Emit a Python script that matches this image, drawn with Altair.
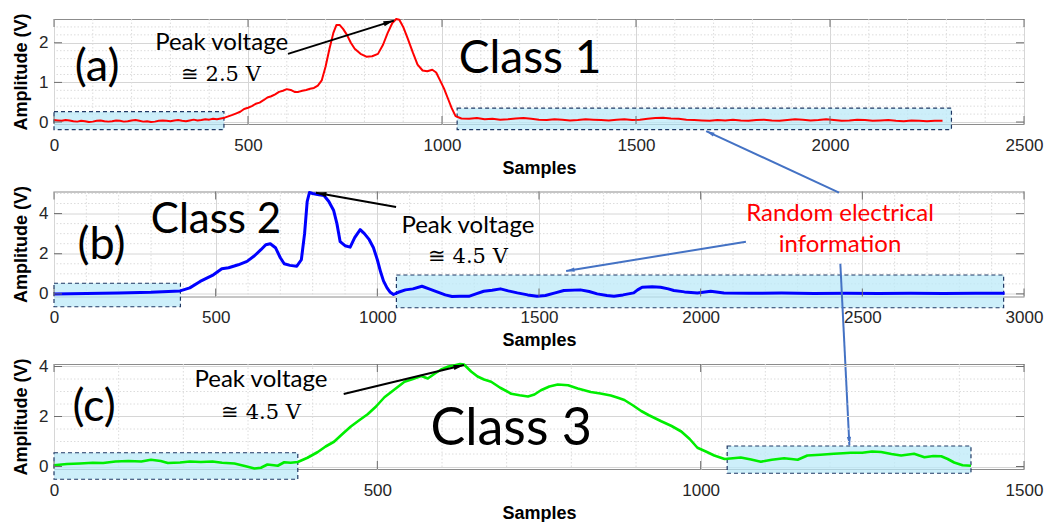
import math
import altair as alt
import pandas as pd

# ---------------- data ----------------
# Panel (a) - Class 1 (red): x sample positions and amplitudes
A_X = ([0, 10, 20, 30, 40, 50, 60, 70, 80, 90, 100, 110, 120, 130, 140, 150, 160, 170, 180, 190, 200, 210, 220,
        230, 240, 250, 260, 270, 280, 290, 300, 310, 320, 330, 340, 350, 360, 370, 380, 390, 400, 410, 420, 430,
        440,
        460, 470, 480, 490, 500, 510, 520, 530, 540, 550, 560, 570, 580, 590, 600, 610, 620, 630, 640, 650, 660,
        670, 680, 690, 700, 710, 720, 728, 736, 745, 755, 765, 775, 790, 805, 820, 835, 848, 860, 872, 882, 890,
        900, 912, 925, 937, 950, 962, 975, 985, 995, 1005, 1015, 1025, 1035]
       + list(range(1050, 2291, 20)))
A_Y = [0.05, 0.04, 0.03, 0.05, 0.04, 0.02, 0.01, 0.03, 0.02, 0.00,
       0.01, 0.03, 0.04, 0.02, 0.01, 0.02, 0.04, 0.03, 0.01, 0.02,
       0.04, 0.05, 0.03, 0.01, 0.02, 0.00, 0.01, 0.03, 0.04, 0.03,
       0.02, 0.04, 0.05, 0.03, 0.02, 0.04, 0.06, 0.04, 0.05, 0.07,
       0.06, 0.08, 0.07, 0.09, 0.11,
       0.18, 0.22, 0.26, 0.33, 0.36, 0.40, 0.46, 0.49, 0.55, 0.62, 0.65, 0.70, 0.76, 0.79, 0.83, 0.81, 0.76,
       0.76, 0.79, 0.81, 0.84, 0.86, 0.92, 1.05, 1.40, 1.85, 2.25, 2.45, 2.45, 2.35, 2.20, 2.00, 1.85, 1.72,
       1.65, 1.66, 1.72, 1.95, 2.25, 2.50, 2.60, 2.58, 2.40, 2.10, 1.75, 1.45, 1.30, 1.28, 1.32, 1.25, 1.05,
       0.85, 0.60, 0.35, 0.15,
       0.09, 0.08, 0.10, 0.07, 0.08, 0.06, 0.07, 0.09, 0.10, 0.08,
       0.06, 0.05, 0.07, 0.06, 0.04, 0.05, 0.07, 0.06, 0.05, 0.04,
       0.06, 0.07, 0.05, 0.06, 0.08, 0.10, 0.11, 0.09, 0.08, 0.06,
       0.05, 0.04, 0.03, 0.05, 0.04, 0.06, 0.04, 0.03, 0.05, 0.06,
       0.04, 0.03, 0.05, 0.07, 0.06, 0.04, 0.05, 0.07, 0.05, 0.03,
       0.04, 0.06, 0.05, 0.03, 0.04, 0.05, 0.03, 0.02, 0.04, 0.03,
       0.02, 0.03, 0.03]

# Panel (b) - Class 2 (blue)
B_X = [0, 100, 200, 300, 390, 420, 452, 493, 519, 540, 570, 597, 620, 640, 655, 669, 685, 700, 712, 730, 751, 765,
       775, 783, 790, 800, 815, 835, 850, 865, 875, 885, 900, 916, 930, 947, 960, 975, 988, 1000, 1010, 1019, 1030,
       1040, 1050, 1065, 1087, 1110, 1138, 1160, 1185, 1210, 1231, 1255, 1283, 1305, 1329, 1355, 1381, 1405, 1433,
       1465, 1494, 1520, 1550, 1577, 1628, 1655, 1680, 1710, 1732, 1760, 1793, 1805, 1819, 1850, 1876, 1900, 1917,
       1950, 1990, 2031, 2072, 2150, 2250, 2350, 2450, 2550, 2650, 2750, 2850, 2940]
B_Y = [0.00, 0.02, 0.04, 0.08, 0.15, 0.30, 0.62, 0.95, 1.25, 1.30, 1.45, 1.62, 1.90, 2.20, 2.45, 2.50, 2.30, 1.80,
       1.50, 1.42, 1.38, 1.70, 3.00, 4.60, 5.05, 5.00, 4.95, 4.90, 4.60, 4.15, 3.50, 2.60, 2.40, 2.33, 2.80, 3.20,
       3.00, 2.70, 2.30, 1.70, 1.10, 0.65, 0.30, 0.08, -0.03, 0.08, 0.20, 0.25, 0.38, 0.25, 0.10, -0.05, -0.13, -0.12,
       -0.12, 0.00, 0.13, 0.18, 0.25, 0.15, 0.05, -0.05, -0.12, -0.08, 0.05, 0.17, 0.20, 0.12, 0.00, -0.08, -0.12,
       -0.05, 0.05, 0.20, 0.33, 0.35, 0.33, 0.25, 0.17, 0.10, 0.05, 0.13, 0.05, 0.03, 0.04, 0.02, 0.03, 0.02, 0.03,
       0.02, 0.03, 0.03]

# Panel (c) - Class 3 (green)
C_X = [0, 20, 40, 60, 76, 95, 115, 135, 150, 165, 176, 195, 210, 227, 245, 260, 279, 295, 310, 320, 330, 340, 346,
       356, 366, 377, 392, 408, 420, 433, 446, 459, 472, 485, 498, 511, 525, 542, 555, 568, 578, 588, 598, 610, 620,
       628, 634, 645, 655, 665, 676, 690, 707, 720, 733, 743, 753, 766, 779, 795, 810, 820, 830, 845, 861, 872, 882,
       895, 908, 920, 939, 955, 970, 983, 995, 1008, 1021, 1037, 1050, 1062, 1078, 1093, 1110, 1129, 1140, 1150,
       1165, 1185, 1206, 1220, 1232, 1250, 1265, 1279, 1295, 1310, 1330, 1346, 1360, 1372, 1382, 1392, 1405, 1418]
C_Y = [0.05, 0.10, 0.12, 0.15, 0.14, 0.20, 0.22, 0.20, 0.27, 0.22, 0.14, 0.16, 0.20, 0.18, 0.20, 0.15, 0.12, 0.02,
       -0.08, -0.05, 0.08, 0.05, 0.03, 0.17, 0.15, 0.18, 0.35, 0.58, 0.80, 0.99, 1.30, 1.60, 1.85, 2.09, 2.40, 2.77,
       3.05, 3.39, 3.50, 3.62, 3.52, 3.70, 3.87, 4.00, 4.05, 4.10, 4.08, 3.80, 3.60, 3.48, 3.39, 3.15, 2.91, 2.85,
       2.80, 2.88, 3.05, 3.20, 3.28, 3.25, 3.12, 3.05, 2.98, 2.92, 2.84, 2.75, 2.66, 2.45, 2.22, 2.05, 1.81, 1.62,
       1.40, 1.10, 0.75, 0.60, 0.44, 0.30, 0.33, 0.36, 0.28, 0.19, 0.27, 0.33, 0.30, 0.27, 0.44, 0.47, 0.51, 0.53,
       0.55, 0.55, 0.60, 0.58, 0.50, 0.44, 0.51, 0.37, 0.42, 0.41, 0.30, 0.16, 0.05, 0.03]

# highlighted (shaded) regions: x0, x1, y0, y1
A_RECTS = [(0, 438, -0.19, 0.26), (1039, 2313, -0.19, 0.35)]
B_RECTS = [(0, 391, -0.64, 0.53), (1059, 2937, -0.69, 0.94)]
C_RECTS = [(0, 377, -0.51, 0.55), (1041, 1418, -0.27, 0.82)]

# annotation texts: text, x, y, style
A_TEXTS = [("(a)", 111, 1.04, "big"), ("Class 1", 1227, 1.23, "cls1"),
           ("Peak voltage", 432, 1.825, "ann"), ("\u2245 2.5 V", 430, 1.04, "math")]
B_TEXTS = [("(b)", 147, 1.72, "big"), ("Class 2", 501, 3.05, "cls2"),
           ("Peak voltage", 1280, 3.05, "ann"), ("\u2245 4.5 V", 1280, 1.55, "math"),
           ("Random electrical", 2431, 3.63, "red"), ("information", 2431, 2.09, "red")]
C_TEXTS = [("(c)", 62, 1.82, "big"), ("Class 3", 707, 0.85, "cls3"),
           ("Peak voltage", 320, 3.18, "ann"), ("\u2245 4.5 V", 320, 1.91, "math")]

# arrows: x, y (tail) -> x2, y2 (head), kind
A_ARROWS = [(603, 1.72, 876, 2.56, "black")]
B_ARROWS = [(1058, 4.33, 810, 5.04, "black"),
            (2428, 5.04, 2017, 8.11, "blue"),
            (2140, 2.60, 1584, 1.14, "blue"),
            (2432, 1.50, 2460, -7.54, "blue")]
C_ARROWS = [(448, 2.90, 634, 4.06, "black")]

# ---------------- styling ----------------
W = 970
H = 105
FONT_AX = "Liberation Sans"
FONT_ANN = "Lato"
FONT_MATH = "DejaVu Serif"

TEXT_STYLES = {
    "big": dict(font=FONT_ANN, fontSize=45, color="#000000"),
    "cls1": dict(font=FONT_ANN, fontSize=46, color="#000000"),
    "cls2": dict(font=FONT_ANN, fontSize=42, color="#000000"),
    "cls3": dict(font=FONT_ANN, fontSize=52, color="#000000"),
    "ann": dict(font=FONT_ANN, fontSize=24, color="#000000"),
    "math": dict(font=FONT_MATH, fontSize=21, color="#000000"),
    "red": dict(font=FONT_ANN, fontSize=24, color="#FF0000"),
}
ARROW_STYLES = {
    "black": dict(color="#000000", width=2, size=110),
    "blue": dict(color="#4472C4", width=2, size=70),
}
HEAD = "M0,0L-0.5,2L0.5,2Z"


def panel(xs, ys, color, lw, xdom, ydom, xticks, yticks, xminor, yminor, rects, texts, arrows):
    sx = alt.Scale(domain=xdom, nice=False, zero=False)
    sy = alt.Scale(domain=ydom, nice=False, zero=False)

    def px(x, y):
        return ((x - xdom[0]) / (xdom[1] - xdom[0]) * W,
                (ydom[1] - y) / (ydom[1] - ydom[0]) * H)

    xaxis = alt.Axis(title="Samples", values=xticks, format="d", grid=True, gridColor="#d6d6d6",
                     ticks=False, tickSize=0, domain=False, labelPadding=13, labelFlush=False,
                     labelFont=FONT_AX, labelFontSize=17, labelColor="#262626",
                     titleFont=FONT_AX, titleFontSize=18, titleFontWeight="bold", titleColor="#000000",
                     titlePadding=6)
    yaxis = alt.Axis(title="Amplitude (V)", values=yticks, format="d", grid=True, gridColor="#d6d6d6",
                     ticks=False, tickSize=0, domain=False, labelPadding=6, labelFlush=False,
                     labelFont=FONT_AX, labelFontSize=17, labelColor="#262626",
                     titleFont=FONT_AX, titleFontSize=18, titleFontWeight="bold", titleColor="#000000",
                     titlePadding=8)

    def X(f):
        return alt.X(f, scale=sx, axis=xaxis)

    def Y(f):
        return alt.Y(f, scale=sy, axis=yaxis)

    layers = []
    layers.append(alt.Chart(pd.DataFrame({"v": xminor})).mark_rule(
        color="#dcdcdc", strokeDash=[1.5, 2], strokeWidth=1).encode(x=X("v:Q")))
    layers.append(alt.Chart(pd.DataFrame({"v": yminor})).mark_rule(
        color="#dcdcdc", strokeDash=[1.5, 2], strokeWidth=1).encode(y=Y("v:Q")))

    rdf = pd.DataFrame(rects, columns=["x0", "x1", "y0", "y1"])
    layers.append(alt.Chart(rdf).mark_rect(
        fill="#bceaf8", fillOpacity=0.75, stroke="#1f3864", strokeDash=[4, 3], strokeWidth=1.2).encode(
        x=X("x0:Q"), x2="x1:Q", y=Y("y0:Q"), y2="y1:Q"))

    ldf = pd.DataFrame({"x": xs, "y": ys})
    layers.append(alt.Chart(ldf).mark_line(color=color, strokeWidth=lw, strokeJoin="round").encode(
        x=X("x:Q"), y=Y("y:Q")))

    # inward tick marks on all four sides
    tx = pd.DataFrame({"v": xticks})
    ty = pd.DataFrame({"v": yticks})
    tk = dict(color="#6e6e6e", strokeWidth=1)
    layers.append(alt.Chart(tx).mark_rule(**tk).encode(x=X("v:Q"), y=alt.value(0), y2=alt.value(8)))
    layers.append(alt.Chart(tx).mark_rule(**tk).encode(x=X("v:Q"), y=alt.value(H - 8), y2=alt.value(H)))
    layers.append(alt.Chart(ty).mark_rule(**tk).encode(y=Y("v:Q"), x=alt.value(0), x2=alt.value(8)))
    layers.append(alt.Chart(ty).mark_rule(**tk).encode(y=Y("v:Q"), x=alt.value(W - 8), x2=alt.value(W)))

    for (t, x, y, st) in texts:
        s = TEXT_STYLES[st]
        layers.append(alt.Chart(pd.DataFrame({"x": [x], "y": [y], "t": [t]})).mark_text(
            align="center", baseline="alphabetic", **s).encode(x=X("x:Q"), y=Y("y:Q"), text="t:N"))

    for (x, y, x2, y2, kind) in arrows:
        s = ARROW_STYLES[kind]
        p1 = px(x, y)
        p2 = px(x2, y2)
        ang = math.degrees(math.atan2(p2[0] - p1[0], -(p2[1] - p1[1]))) % 360
        adf = pd.DataFrame({"x": [x], "y": [y], "x2": [x2], "y2": [y2], "ang": [ang]})
        layers.append(alt.Chart(adf).mark_rule(color=s["color"], strokeWidth=s["width"]).encode(
            x=X("x:Q"), y=Y("y:Q"), x2="x2:Q", y2="y2:Q"))
        layers.append(alt.Chart(adf).mark_point(
            shape=HEAD, filled=True, size=s["size"], color=s["color"], opacity=1, strokeWidth=0).encode(
            x=X("x2:Q"), y=Y("y2:Q"), angle=alt.Angle("ang:Q", scale=None)))

    return alt.layer(*layers).properties(width=W, height=H)


def minor(lo, hi, step, major):
    out = []
    v = lo
    while v < hi - 1e-9:
        if abs(v / major - round(v / major)) > 1e-6:
            out.append(round(v, 4))
        v += step
    return out


pa = panel(A_X, A_Y, "#FF0000", 2, [0, 2500], [-0.05, 2.6], [0, 500, 1000, 1500, 2000, 2500], [0, 1, 2],
           minor(100, 2500, 100, 500), minor(0.2, 2.6, 0.2, 1), A_RECTS, A_TEXTS, A_ARROWS)
pb = panel(B_X, B_Y, "#0000FF", 3, [0, 3000], [-0.13, 5.1], [0, 500, 1000, 1500, 2000, 2500, 3000], [0, 2, 4],
           minor(100, 3000, 100, 500), minor(0.5, 5.1, 0.5, 2), B_RECTS, B_TEXTS, B_ARROWS)
pc = panel(C_X, C_Y, "#00EE00", 2.6, [0, 1500], [-0.1, 4.1], [0, 500, 1000, 1500], [0, 2, 4],
           minor(100, 1500, 100, 500), minor(0.5, 4.1, 0.5, 2), C_RECTS, C_TEXTS, C_ARROWS)

chart = alt.vconcat(pa, pb, pc, spacing=67.5, bounds="flush").properties(
    padding={"left": 4, "top": 4, "right": 5, "bottom": 5},
    background="white",
).configure_view(stroke="#8c8c8c", strokeWidth=1)

chart.save("out.html", embed_options={"renderer": "svg", "actions": False})
